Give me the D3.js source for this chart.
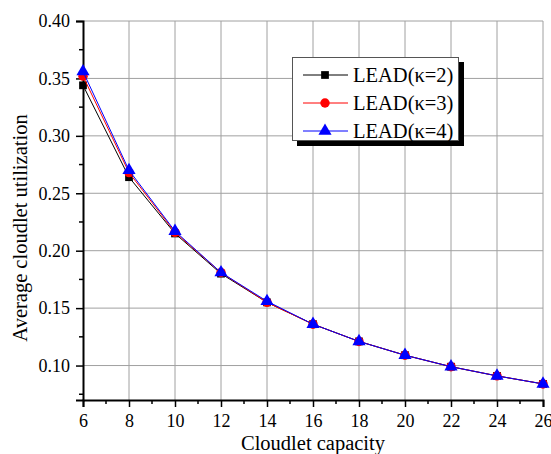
<!DOCTYPE html>
<html>
<head>
<meta charset="utf-8">
<script src="https://cdn.jsdelivr.net/npm/d3@7"></script>
<style>
  body { margin: 0; background: #fff; }
  text { font-family: "Liberation Serif", "Times New Roman", serif; }
</style>
</head>
<body>
<svg id="chart" width="551" height="454"></svg>
<script>
// chart data
const capacities = [6, 8, 10, 12, 14, 16, 18, 20, 22, 24, 26];
const lead2 = [0.344, 0.264, 0.215, 0.180, 0.155, 0.136, 0.121, 0.109, 0.099, 0.091, 0.084];
const lead3 = [0.352, 0.268, 0.216, 0.181, 0.155, 0.136, 0.121, 0.109, 0.099, 0.091, 0.084];
const lead4 = [0.356, 0.270, 0.217, 0.181, 0.156, 0.136, 0.121, 0.109, 0.099, 0.091, 0.084];
const seriesNames = ["LEAD(\u03ba=2)", "LEAD(\u03ba=3)", "LEAD(\u03ba=4)"];
const xTicks = [6, 8, 10, 12, 14, 16, 18, 20, 22, 24, 26];
const yTicks = [0.10, 0.15, 0.20, 0.25, 0.30, 0.35, 0.40];

const svg = d3.select("#chart");
const margin = { left: 83, right: 8, top: 21, bottom: 54 };
const width = 551, height = 454;

const x = d3.scaleLinear().domain([6, 26]).range([margin.left, width - margin.right]);
const y = d3.scaleLinear().domain([0.07, 0.40]).range([height - margin.bottom, margin.top]);

//grid lines
svg.append("g")
  .selectAll("line")
  .data(xTicks.slice(1))
  .join("line")
  .attr("x1", d => x(d)).attr("x2", d => x(d))
  .attr("y1", y(0.07)).attr("y2", y(0.40))
  .attr("stroke", "#a0a0a0").attr("stroke-width", 1);

svg.append("g")
  .selectAll("line")
  .data(yTicks)
  .join("line")
  .attr("x1", x(6)).attr("x2", x(26))
  .attr("y1", d => y(d)).attr("y2", d => y(d))
  .attr("stroke", "#a0a0a0").attr("stroke-width", 1);

// axes
const xAxis = d3.axisBottom(x).tickValues(xTicks).tickSize(7).tickPadding(7).tickFormat(d3.format("d"));
const yAxis = d3.axisLeft(y).tickValues(yTicks).tickSize(7).tickPadding(6).tickFormat(d3.format(".2f"));

const gx = svg.append("g").attr("transform", `translate(0,${y(0.07)})`).call(xAxis);
const gy = svg.append("g").attr("transform", `translate(${x(6)},0)`).call(yAxis);

[gx, gy].forEach(g => {
  g.select(".domain").attr("stroke", "#000").attr("stroke-width", 2);
  g.selectAll(".tick line").attr("stroke", "#000").attr("stroke-width", 1.5);
  g.selectAll(".tick text")
    .attr("fill", "#000")
    .style("font-family", "'Liberation Serif', serif")
    .style("font-size", "18px");
});

// minor ticks
svg.append("g")
  .selectAll("line")
  .data(d3.range(7, 26, 2))
  .join("line")
  .attr("x1", d => x(d)).attr("x2", d => x(d))
  .attr("y1", y(0.07)).attr("y2", y(0.07) + 4)
  .attr("stroke", "#000").attr("stroke-width", 1.5);

svg.append("g")
  .selectAll("line")
  .data([0.075, 0.125, 0.175, 0.225, 0.275, 0.325, 0.375])
  .join("line")
  .attr("x1", x(6) - 4).attr("x2", x(6))
  .attr("y1", d => y(d)).attr("y2", d => y(d))
  .attr("stroke", "#000").attr("stroke-width", 1.5);

// axis titles
svg.append("text")
  .attr("x", 313)
  .attr("y", 450)
  .attr("text-anchor", "middle")
  .style("font-size", "20.5px")
  .text("Cloudlet capacity");

svg.append("text")
  .attr("transform", "translate(27,228) rotate(-90)")
  .attr("text-anchor", "middle")
  .style("font-size", "20.5px")
  .text("Average cloudlet utilization");

// series
const series = [
  { name: seriesNames[0], values: lead2, color: "#000000", shape: d3.symbolSquare, size: 60 },
  { name: seriesNames[1], values: lead3, color: "#ff0000", shape: d3.symbolCircle, size: 70 },
  { name: seriesNames[2], values: lead4, color: "#0000ff", shape: d3.symbolTriangle, size: 75 }
];

const line = d3.line()
  .x((d, i) => x(capacities[i]))
  .y(d => y(d));

series.forEach(s => {
  svg.append("path")
    .datum(s.values)
    .attr("d", line)
    .attr("fill", "none")
    .attr("stroke", s.color)
    .attr("stroke-width", 1);

  svg.append("g")
    .selectAll("path")
    .data(s.values)
    .join("path")
    .attr("transform", (d, i) => `translate(${x(capacities[i])},${y(d)})`)
    .attr("d", d3.symbol().type(s.shape).size(s.size))
    .attr("fill", s.color);
});

// legend
const legend = svg.append("g");
legend.append("rect")
  .attr("x", 297).attr("y", 62).attr("width", 167).attr("height", 84)
  .attr("fill", "#000");
legend.append("rect")
  .attr("x", 292.5).attr("y", 57.5).attr("width", 166).attr("height", 83)
  .attr("fill", "#fff").attr("stroke", "#555").attr("stroke-width", 1);

series.forEach((s, i) => {
  const ly = 75 + i * 28;
  legend.append("line")
    .attr("x1", 303).attr("x2", 348)
    .attr("y1", ly).attr("y2", ly)
    .attr("stroke", s.color).attr("stroke-width", 1);
  legend.append("path")
    .attr("transform", `translate(325,${ly})`)
    .attr("d", d3.symbol().type(s.shape).size(s.size))
    .attr("fill", s.color);
  legend.append("text")
    .attr("x", 353).attr("y", ly + 7)
    .style("font-size", "20.5px")
    .text(s.name);
});
</script>
</body>
</html>
